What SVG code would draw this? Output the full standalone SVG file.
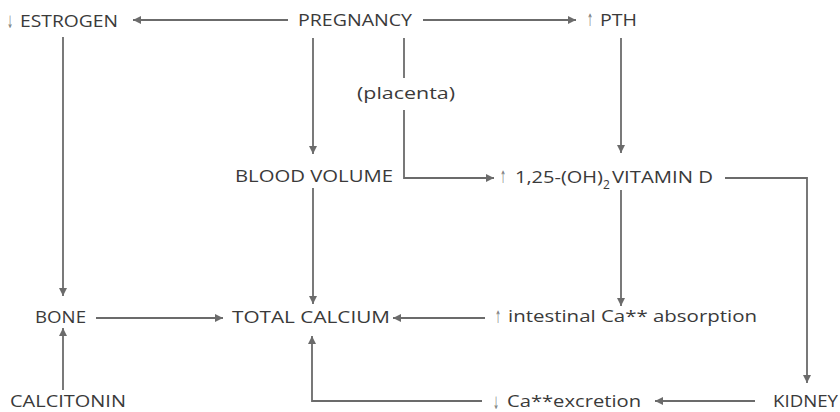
<svg xmlns="http://www.w3.org/2000/svg" width="840" height="412" viewBox="0 0 840 412">
<defs>
<marker id="ah" viewBox="0 0 10 10" refX="10" refY="5" markerWidth="4.5" markerHeight="4.5" orient="auto" markerUnits="strokeWidth">
<path d="M0,0 L10,5 L0,10 z" fill="#6b6b6b"/>
</marker>
<style>
.t{font-family:"Open Sans","Noto Sans",sans-serif;font-size:17px;fill:#3a3a3a}
.s{font-family:"DejaVu Sans",sans-serif;font-size:17px;fill:#808080}
.c{fill:none;stroke:#6b6b6b;stroke-width:1.8;marker-end:url(#ah)}
.n{fill:none;stroke:#6b6b6b;stroke-width:1.8}
</style>
</defs>
<rect width="840" height="412" fill="#fff"/>
<g id="connectors">
<line class="c" x1="288" y1="20" x2="133" y2="20"/>
<line class="c" x1="423" y1="20" x2="576" y2="20"/>
<line class="c" x1="63" y1="37" x2="63" y2="296"/>
<line class="c" x1="313" y1="38" x2="313" y2="154"/>
<line class="n" x1="404" y1="38" x2="404" y2="78"/>
<polyline class="c" points="404,110 404,178 494,178"/>
<line class="c" x1="621" y1="38" x2="621" y2="153"/>
<polyline class="c" points="725,178 807,178 807,383"/>
<line class="c" x1="313" y1="188" x2="313" y2="304"/>
<line class="c" x1="621" y1="190" x2="621" y2="306"/>
<line class="c" x1="96" y1="318" x2="223" y2="318"/>
<line class="c" x1="485" y1="318" x2="393" y2="318"/>
<line class="c" x1="63" y1="390" x2="63" y2="328"/>
<polyline class="c" points="482,401 312,401 312,336"/>
<line class="c" x1="755" y1="401" x2="655" y2="401"/>
</g>
<g id="estrogen"><text class="s" x="7" y="28" textLength="6" lengthAdjust="spacingAndGlyphs">↓</text><text class="t" x="20" y="27" textLength="98" lengthAdjust="spacingAndGlyphs">ESTROGEN</text></g>
<g id="pregnancy"><text class="t" x="298" y="26" textLength="114" lengthAdjust="spacingAndGlyphs">PREGNANCY</text></g>
<g id="pth"><text class="s" x="587" y="26" textLength="6" lengthAdjust="spacingAndGlyphs">↑</text><text class="t" x="600" y="26" textLength="37" lengthAdjust="spacingAndGlyphs">PTH</text></g>
<g id="placenta"><text class="t" x="357" y="99" textLength="98" lengthAdjust="spacingAndGlyphs">(placenta)</text></g>
<g id="blood-volume"><text class="t" x="235" y="182" textLength="158" lengthAdjust="spacingAndGlyphs">BLOOD VOLUME</text></g>
<g id="vitamin-d"><text class="s" x="500" y="183" textLength="6" lengthAdjust="spacingAndGlyphs">↑</text><text class="t" x="515" y="183"><tspan textLength="88" lengthAdjust="spacingAndGlyphs">1,25-(OH)</tspan><tspan font-size="12" x="603" y="189">2</tspan><tspan x="612" y="183" textLength="101" lengthAdjust="spacingAndGlyphs">VITAMIN D</tspan></text></g>
<g id="bone"><text class="t" x="35" y="323" textLength="51" lengthAdjust="spacingAndGlyphs">BONE</text></g>
<g id="total-calcium"><text class="t" x="232" y="323" textLength="158" lengthAdjust="spacingAndGlyphs">TOTAL CALCIUM</text></g>
<g id="intestinal"><text class="s" x="495" y="323" textLength="6" lengthAdjust="spacingAndGlyphs">↑</text><text class="t" x="508" y="322" textLength="249" lengthAdjust="spacingAndGlyphs">intestinal Ca** absorption</text></g>
<g id="calcitonin"><text class="t" x="10" y="407" textLength="116" lengthAdjust="spacingAndGlyphs">CALCITONIN</text></g>
<g id="excretion"><text class="s" x="493" y="409" textLength="6" lengthAdjust="spacingAndGlyphs">↓</text><text class="t" x="507" y="407" textLength="134" lengthAdjust="spacingAndGlyphs">Ca**excretion</text></g>
<g id="kidney"><text class="t" x="773" y="407" textLength="65" lengthAdjust="spacingAndGlyphs">KIDNEY</text></g>
</svg>
